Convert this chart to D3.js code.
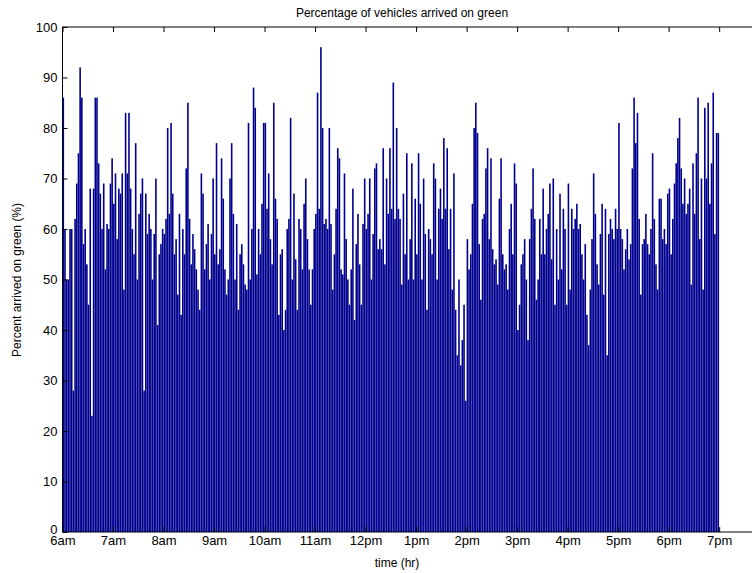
<!DOCTYPE html>
<html><head><meta charset="utf-8">
<script src="https://cdn.jsdelivr.net/npm/d3@7"></script>
<style>body{margin:0;background:#fff}svg{font-family:"Liberation Sans",Arial,sans-serif}</style>
</head><body><svg id="c" width="752" height="573"></svg>
<script>
const h6=[86,60,50,50,60,60,28,62,69,75,92,86,57,60,53,45,68,23,68,86,86,73,67,60,69,52,61,60,69,74];
const h7=[65,71,58,68,67,71,48,83,71,83,68,60,55,77,50,63,67,70,28,67,59,63,60,50,59,70,41,55,57,60];
const h8=[59,62,80,63,81,67,55,58,47,63,43,60,55,72,85,62,53,59,56,52,48,44,71,67,52,57,61,50,59,70];
const h9=[55,77,53,56,74,66,52,47,50,70,77,63,50,61,44,55,57,53,49,48,81,50,60,88,84,51,60,55,65,81];
const h10=[81,64,71,58,53,85,66,62,43,55,56,40,44,60,62,82,50,67,54,44,62,60,52,65,70,58,52,45,52,60];
const h11=[63,87,64,96,80,61,62,60,80,61,48,55,64,76,74,52,51,71,58,50,45,52,68,42,57,63,53,45,61,70];
const h12=[60,63,70,50,59,72,73,56,58,56,76,53,70,63,76,64,89,62,80,64,62,49,67,55,75,50,58,73,50,66];
const h13=[55,75,65,50,70,59,44,60,58,55,73,70,50,64,68,62,78,64,76,56,64,48,71,44,35,50,33,38,45,26];
const h14=[58,52,55,65,80,85,79,57,46,62,63,72,76,58,74,56,53,54,49,66,74,55,52,53,48,60,65,55,73,69];
const h15=[40,45,53,55,58,50,38,58,64,72,62,46,50,62,55,68,55,60,63,69,54,70,45,60,50,67,52,64,60,45];
const h16=[69,48,64,60,62,65,60,61,55,50,57,43,37,48,58,71,63,53,49,59,65,47,64,35,59,62,60,58,64,60];
const h17=[81,60,58,52,56,60,54,57,72,86,77,83,62,47,57,58,63,57,55,60,75,62,53,48,66,66,58,60,57,67];
const h18=[68,55,62,69,73,78,82,72,65,70,63,65,68,49,73,63,75,86,58,70,48,84,70,85,65,73,87,59,79,79];
const values=[].concat(h6,h7,h8,h9,h10,h11,h12,h13,h14,h15,h16,h17,h18);
const tickHours=[6,7,8,9,10,11,12,13,14,15,16,17,18,19];
const tickLabels=["6am","7am","8am","9am","10am","11am","12pm","1pm","2pm","3pm","4pm","5pm","6pm","7pm"];
const yTicks=[0,10,20,30,40,50,60,70,80,90,100];

const svg=d3.select("#c");
const L=62.5,T=27,B=532,R=752;
const x=d3.scaleLinear().domain([6,19.65]).range([L,R]);
const y=d3.scaleLinear().domain([0,100]).range([B,T]);
const step=(x(19)-x(6))/values.length;
svg.append("g").selectAll("rect").data(values).join("rect")
 .attr("x",(d,i)=>x(6+i*13/values.length))
 .attr("width",step*0.95)
 .attr("y",d=>y(d)).attr("height",d=>B-y(d))
 .attr("fill","#00008f");
const gx=svg.append("g").attr("transform",`translate(0,${B})`)
 .call(d3.axisBottom(x).tickValues(tickHours).tickFormat((d,i)=>tickLabels[i]).tickSize(-5).tickPadding(4));
const gxt=svg.append("g").attr("transform",`translate(0,${T})`)
 .call(d3.axisTop(x).tickValues(tickHours).tickFormat("").tickSize(-5));
const gy=svg.append("g").attr("transform",`translate(${L},0)`)
 .call(d3.axisLeft(y).tickValues(yTicks).tickSize(-5).tickPadding(5));
[gx,gxt,gy].forEach(g=>{g.selectAll("path").attr("stroke","#000");g.selectAll("line").attr("stroke","#000");g.selectAll("text").attr("font-size",13).attr("fill","#000").attr("font-family","Liberation Sans, Arial, sans-serif");});
gy.selectAll(".tick text").filter(d=>d===0).attr("dy","0.1em");
gx.select(".domain").remove();gxt.select(".domain").remove();gy.select(".domain").remove();
svg.append("rect").attr("x",L).attr("y",T).attr("width",R-L+2).attr("height",B-T).attr("fill","none").attr("stroke","#000");
svg.append("text").attr("x",402).attr("y",17).attr("text-anchor","middle").attr("font-size",12).text("Percentage of vehicles arrived on green");
svg.append("text").attr("x",397).attr("y",567).attr("text-anchor","middle").attr("font-size",12).text("time (hr)");
svg.append("text").attr("transform","translate(21,280) rotate(-90)").attr("text-anchor","middle").attr("font-size",12).text("Percent arrived on green (%)");
</script></body></html>
